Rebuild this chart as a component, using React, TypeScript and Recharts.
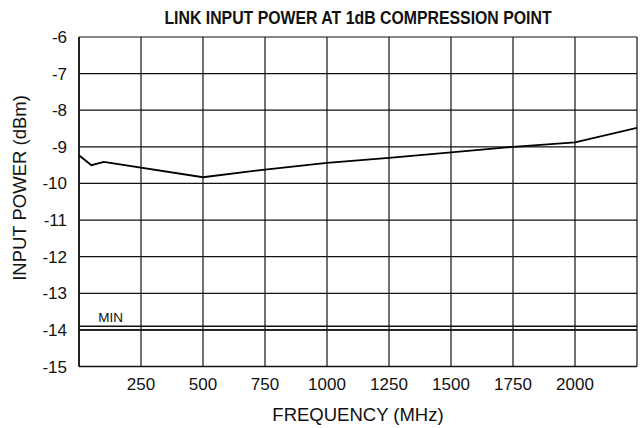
import React from "react";
import { LineChart, Line, XAxis, YAxis, CartesianGrid, ReferenceLine, ReferenceDot, Label } from "recharts";

const frequencies = [0, 50, 100, 500, 750, 1000, 1250, 1500, 1750, 2000, 2250];
const inputPower = [-9.23, -9.5, -9.41, -9.83, -9.62, -9.44, -9.3, -9.15, -9.0, -8.88, -8.48];
const xTicks = [0, 250, 500, 750, 1000, 1250, 1500, 1750, 2000, 2250];
const yTicks = [-6, -7, -8, -9, -10, -11, -12, -13, -14, -15];
const minLines = [-13.9, -14.0];
const minLabel = "MIN";

const data = frequencies.map((f, i) => ({ f, p: inputPower[i] }));

const FONT = "'Liberation Sans', Arial, sans-serif";

export default function App() {
  return (
    <div style={{ position: "absolute", left: 0, top: 0, width: 642, height: 428, background: "#fff" }}>
      <div
        style={{
          position: "absolute",
          left: 0,
          width: 716,
          top: 8,
          textAlign: "center",
          fontFamily: FONT,
          fontWeight: "bold",
          fontSize: 18,
          lineHeight: "20px",
          color: "#111",
          transform: "scaleX(0.88)",
          transformOrigin: "358px 0",
          whiteSpace: "nowrap",
        }}
      >
        LINK INPUT POWER AT 1dB COMPRESSION POINT
      </div>
      <LineChart width={642} height={428} data={data} margin={{ top: 37, right: 5, bottom: 21.5, left: 0 }}>
        <CartesianGrid stroke="#111" strokeWidth={1.2} horizontalValues={yTicks} verticalValues={xTicks} />
        <XAxis
          dataKey="f"
          type="number"
          domain={[0, 2250]}
          ticks={xTicks}
          tickFormatter={(v: number) => (v === 0 || v === 2250 ? "" : String(v))}
          tickLine={false}
          tickSize={0}
          tickMargin={11}
          axisLine={{ stroke: "#111", strokeWidth: 1.6 }}
          tick={{ fill: "#111", fontSize: 17, fontFamily: FONT }}
          height={40}
          allowDataOverflow
        >
          <Label
            content={() => (
              <text x={358} y={421} textAnchor="middle" fill="#111" fontSize={18.5} fontFamily={FONT}>
                FREQUENCY (MHz)
              </text>
            )}
          />
        </XAxis>
        <YAxis
          type="number"
          domain={[-15, -6]}
          ticks={yTicks}
          interval={0}
          tickLine={false}
          tickSize={0}
          tickMargin={12}
          axisLine={{ stroke: "#111", strokeWidth: 1.6 }}
          tick={{ fill: "#111", fontSize: 17, fontFamily: FONT }}
          width={79}
          allowDataOverflow
        >
          <Label
            content={() => {
              const cx = 26;
              const cy = 188;
              return (
                <text
                  x={cx}
                  y={cy}
                  transform={`rotate(-90 ${cx} ${cy})`}
                  textAnchor="middle"
                  fill="#111"
                  fontSize={18.5}
                  fontFamily={FONT}
                >
                  INPUT POWER (dBm)
                </text>
              );
            }}
          />
        </YAxis>
        {minLines.map((v) => (
          <ReferenceLine key={v} y={v} stroke="#111" strokeWidth={1.5} />
        ))}
        <ReferenceDot
          x={128}
          y={-13.64}
          r={0}
          fill="none"
          stroke="none"
          label={{ value: minLabel, position: "center", fill: "#111", fontSize: 13.5, fontFamily: FONT }}
        />
        <Line type="linear" dataKey="p" stroke="#000" strokeWidth={1.8} dot={false} isAnimationActive={false} />
      </LineChart>
    </div>
  );
}
